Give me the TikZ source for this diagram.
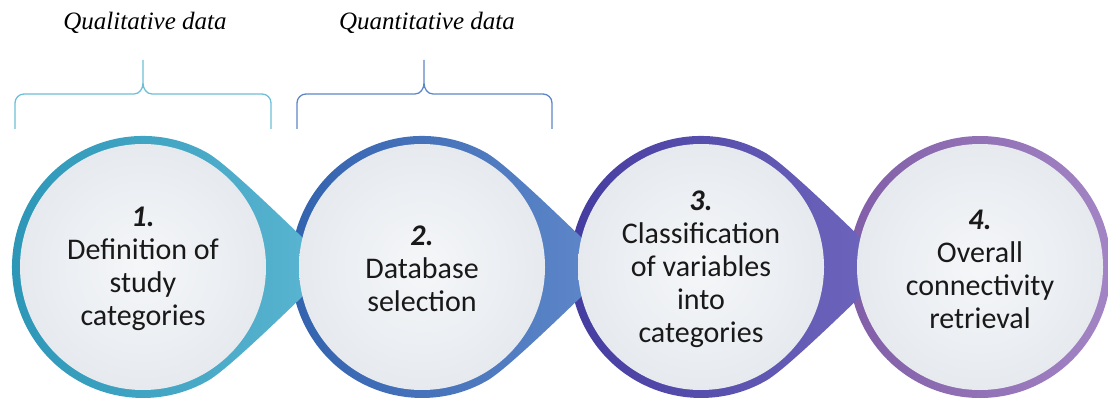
\documentclass[tikz,border=0pt]{standalone}
\usepackage{fontspec}
\setmainfont{Carlito}
\newfontfamily\labelfont{Liberation Serif}
\definecolor{cA}{RGB}{46,162,198}
\definecolor{cB}{RGB}{52,104,188}
\definecolor{cC}{RGB}{72,62,172}
\definecolor{cD}{RGB}{140,102,182}
\definecolor{cIn}{RGB}{230,234,239}
\definecolor{txt}{RGB}{25,25,25}
\begin{document}
\begin{tikzpicture}[x=1pt,y=1pt,
  steptext/.style={align=center,text=txt,font=\fontsize{30}{33}\selectfont},
  datalabel/.style={anchor=base,font=\labelfont\itshape\fontsize{25}{29}\selectfont},
  bracket/.style={line width=1.3pt,line join=round}]
  \useasboundingbox (0,0) rectangle (1108,405);
  % last step has no tail, the others are drawn right to left
  \shade[left color=cD!92!black,right color=cD!80!white] (980,138) circle (131);
  \foreach \x/\c in {701/cC,422/cB,143/cA}
    \shade[shift={(\x,138)},left color=\c!92!black,right color=\c!78!white]
    (65.5,113.4) .. controls (87,101) and (157.6,31) .. (190,0)
    .. controls (157.6,-31) and (87,-101) .. (65.5,-113.4)
    arc[start angle=-60,end angle=-300,radius=131] -- cycle;
  \foreach \x in {143,422,701,980}
    \shade[inner color=cIn!40!white,outer color=cIn] (\x,138) circle (123);
  \node[steptext] (s1) at (143,136) {\textbf{\textit{1.}}\\Definition of\\study\\categories};
  \node[steptext] (s2) at (422,136) {\textbf{\textit{2.}}\\Database\\selection};
  \node[steptext] (s3) at (701,136) {\textbf{\textit{3.}}\\Classification\\of variables\\into\\categories};
  \node[steptext] (s4) at (980,136) {\textbf{\textit{4.}}\\Overall\\connectivity\\retrieval};
  % braces over the first two steps
  \foreach \a/\m/\b/\c in {15/143/271/cA!70!white,297/424/552/cB!80!white}
    \draw[bracket,\c] (\a,276) -- (\a,302) to[out=90,in=180] (\a+9,311) -- (\m-9,311)
    to[out=0,in=-90] (\m,322) -- (\m,345) (\m,322) to[out=-90,in=180] (\m+9,311)
    -- (\b-9,311) to[out=0,in=90] (\b,302) -- (\b,276);
  \node[datalabel] (qual) at (145,375) {Qualitative data};
  \node[datalabel] (quan) at (427,375) {Quantitative data};
\end{tikzpicture}
\end{document}
